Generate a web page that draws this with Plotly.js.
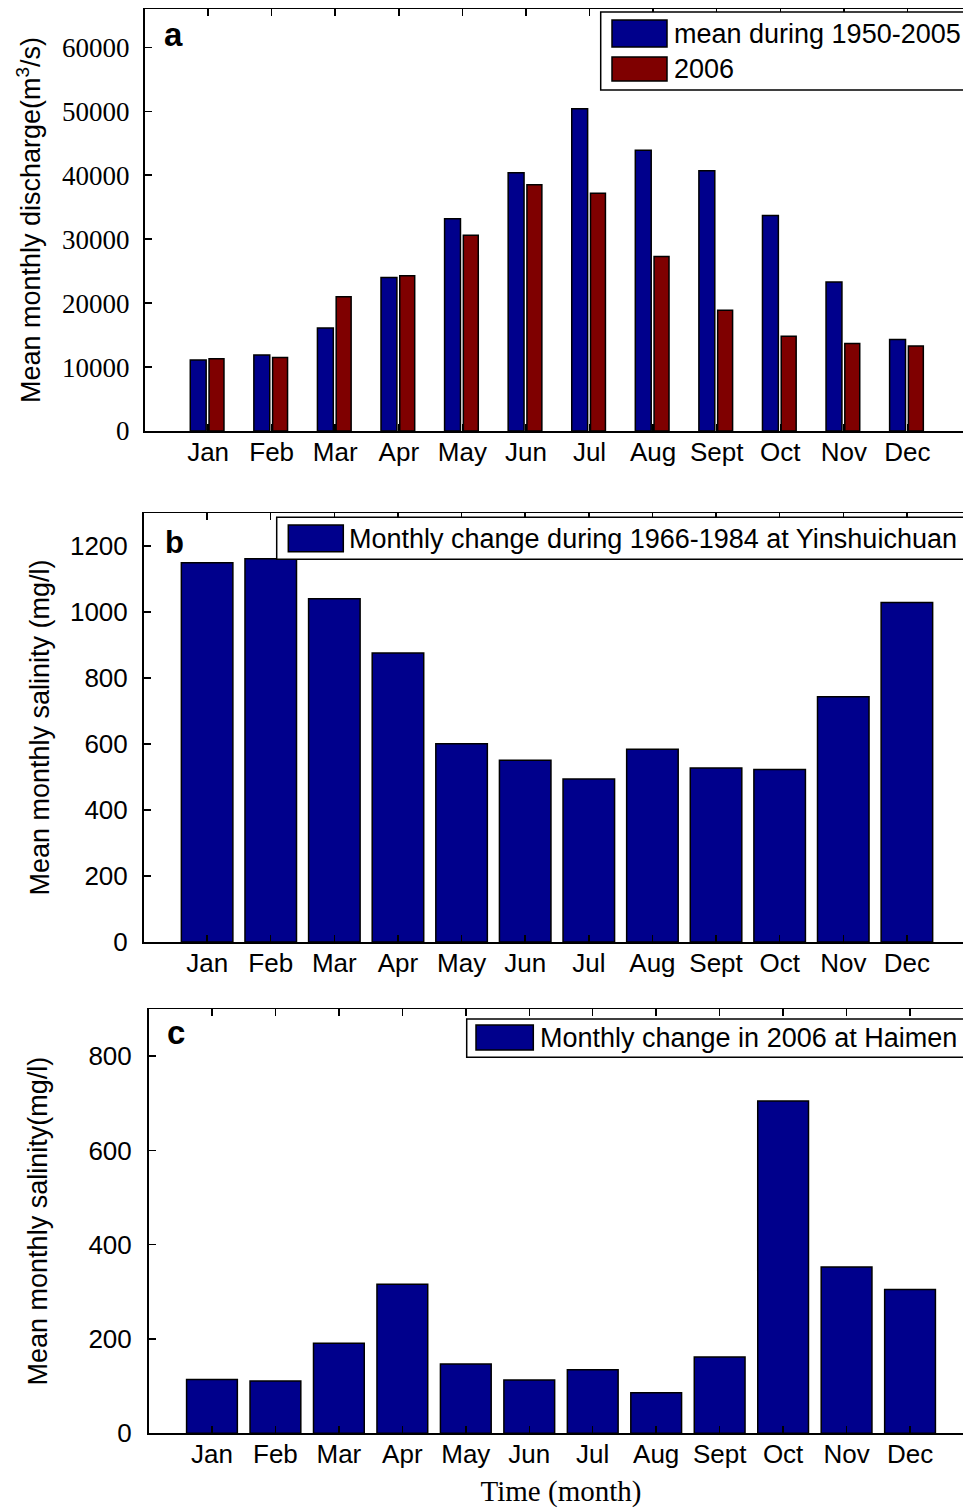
<!DOCTYPE html>
<html>
<head>
<meta charset="utf-8">
<script src="https://cdn.plot.ly/plotly-3.0.1.min.js"></script>
<style>
html,body{margin:0;padding:0;overflow:hidden;background:#fff;}
#chart{width:1000px;height:1508px;}
</style>
</head>
<body>
<div id="chart"></div>
<script>
// ---- data ----
const months = ["Jan","Feb","Mar","Apr","May","Jun","Jul","Aug","Sept","Oct","Nov","Dec"];
const dischargeMean19502005 = [11100, 11900, 16100, 24000, 33200, 40400, 50400, 43900, 40700, 33700, 23300, 14300];
const discharge2006 = [11300, 11500, 21000, 24300, 30600, 38500, 37200, 27300, 18900, 14800, 13700, 13300];
const salinityYinshuichuan = [1149, 1161, 1040, 876, 601, 551, 494, 584, 527, 523, 743, 1029];
const salinityHaimen2006 = [114, 111, 191, 316, 147, 113, 135, 86, 162, 705, 353, 305];
const yTicksA = [0, 10000, 20000, 30000, 40000, 50000, 60000];
const yTicksB = [0, 200, 400, 600, 800, 1000, 1200];
const yTicksC = [0, 200, 400, 600, 800];

const W = 1000, H = 1508;
const px = x => x / W;
const py = y => (H - y) / H;

const BLUE = '#00008C';
const RED = '#7F0000';
const sans = 'Liberation Sans, Arial, sans-serif';
const serif = 'Liberation Serif, Times New Roman, serif';
const outline = {color: 'black', width: 1.5};

const traces = [
  {type:'bar', x: months, y: dischargeMean19502005, name:'mean during 1950-2005',
   xaxis:'x', yaxis:'y', offset:-0.28, width:0.25, marker:{color:BLUE, line:outline}, showlegend:false},
  {type:'bar', x: months, y: discharge2006, name:'2006',
   xaxis:'x', yaxis:'y', offset:0.015, width:0.235, marker:{color:RED, line:outline}, showlegend:false},
  {type:'bar', x: months, y: salinityYinshuichuan, name:'Monthly change during 1966-1984 at Yinshuichuan',
   xaxis:'x2', yaxis:'y2', width:0.81, marker:{color:BLUE, line:outline}, showlegend:false},
  {type:'bar', x: months, y: salinityHaimen2006, name:'Monthly change in 2006 at Haimen',
   xaxis:'x3', yaxis:'y3', width:0.8, marker:{color:BLUE, line:outline}, showlegend:false}
];

function xAxis(domain, anchor, extra) {
  return Object.assign({
    domain: domain, anchor: anchor, type:'category', range:[-1, 12],
    showline:true, linecolor:'black', linewidth:1.5, mirror:'ticks',
    ticks:'inside', ticklen:7, tickwidth:1.5, tickcolor:'black',
    showgrid:false, zeroline:false, ticklabelstandoff:-3,
    tickfont:{family:sans, size:26, color:'black'}, fixedrange:true
  }, extra || {});
}
function yAxis(domain, anchor, range, tickvals, font, title, standoff, lblOff) {
  return {
    domain: domain, anchor: anchor, range: range, tickvals: tickvals, tickformat:'d',
    showline:true, linecolor:'black', linewidth:1.5, mirror:'ticks',
    ticks:'inside', ticklen:7, tickwidth:1.5, tickcolor:'black',
    showgrid:false, zeroline:false, ticklabelstandoff:lblOff,
    tickfont: font,
    title:{text:title, font:{family:sans, size:27, color:'black'}, standoff:standoff},
    fixedrange:true
  };
}

const shapes = [];
function rect(x0, y0, x1, y1, fill) {
  shapes.push({type:'rect', xref:'paper', yref:'paper', layer:'above',
    x0:px(x0), x1:px(x1), y0:py(y1), y1:py(y0),
    line:{color:'black', width:1.5}, fillcolor:fill});
}
// legend boxes & patches
rect(600.7, 12, 1000, 90, 'white');
rect(612, 20, 667, 47, BLUE);
rect(612, 57, 667, 81, RED);
rect(276.7, 517.3, 1000, 559.3, 'white');
rect(288.3, 525, 343.3, 551.7, BLUE);
rect(466.7, 1019, 1000, 1057.3, 'white');
rect(476, 1025, 533.3, 1050, BLUE);

const annotations = [];
function label(text, x, y, size, anchor) {
  annotations.push({text:text, xref:'paper', yref:'paper', x:px(x), y:py(y),
    xanchor: anchor || 'left', yanchor:'middle', showarrow:false,
    font:{family:sans, size:size, color:'black'}});
}
label(traces[0].name, 672, 34, 27);
label(traces[1].name, 672, 69, 27);
label(traces[2].name, 347, 538.5, 27);
label(traces[3].name, 538, 1037.5, 27);
label('<b>a</b>', 173, 34, 33, 'center');
label('<b>b</b>', 174, 542, 31, 'center');
label('<b>c</b>', 176, 1032, 33, 'center');

const layout = {
  width: W, height: H,
  margin:{l:0, r:0, t:0, b:0, pad:0},
  paper_bgcolor:'white', plot_bgcolor:'white',
  barmode:'overlay',
  showlegend:false,
  xaxis: xAxis([0.1445, 0.971], 'y'),
  yaxis: yAxis([py(431), py(9)], 'x', [0, 66000], yTicksA,
    {family:serif, size:27, color:'black'}, 'Mean monthly discharge(m<sup>3</sup>/s)', 13, 8),
  xaxis2: xAxis([0.1435, 0.9705], 'y2'),
  yaxis2: yAxis([py(942), py(513)], 'x2', [0, 1300], yTicksB,
    {family:sans, size:26, color:'black'}, 'Mean monthly salinity (mg/l)', 12, 9),
  xaxis3: xAxis([0.1485, 0.9735], 'y3', {
    title:{text:'Time (month)', font:{family:serif, size:29, color:'black'}, standoff:13}}),
  yaxis3: yAxis([py(1433.3), py(1009)], 'x3', [0, 900], yTicksC,
    {family:sans, size:26, color:'black'}, 'Mean monthly salinity(mg/l)', 33, 10),
  shapes: shapes,
  annotations: annotations
};

Plotly.newPlot('chart', traces, layout, {staticPlot:true, displayModeBar:false});
</script>
</body>
</html>
